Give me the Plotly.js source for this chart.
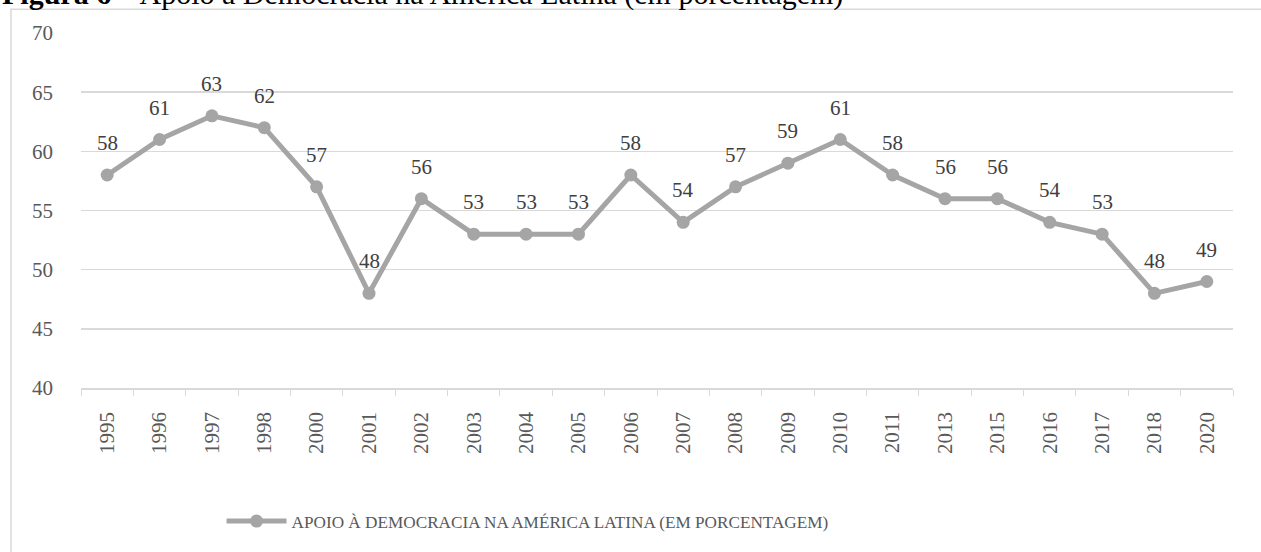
<!DOCTYPE html>
<html>
<head>
<meta charset="utf-8">
<script src="https://cdn.plot.ly/plotly-3.0.1.min.js"></script>
<style>html,body{margin:0;padding:0;background:#fff;}#chart{width:1261px;height:552px;}</style>
</head>
<body>
<div id="chart"></div>
<script>
const years = ["1995","1996","1997","1998","2000","2001","2002","2003","2004","2005","2006","2007","2008","2009","2010","2011","2013","2015","2016","2017","2018","2020"];
const support = [58,61,63,62,57,48,56,53,53,53,58,54,57,59,61,58,56,56,54,53,48,49];
const seriesName = "APOIO À DEMOCRACIA NA AMÉRICA LATINA (EM PORCENTAGEM)";
const figureTitle = "<b>Figura 6</b> – Apoio à Democracia na América Latina (em porcentagem)";

const font = "Liberation Serif, Times New Roman, serif";
const trace = {
  x: years, y: support, type: "scatter", mode: "lines+markers",
  name: seriesName,
  line: {color: "#a5a5a5", width: 5},
  marker: {color: "#a5a5a5", size: 13},
  cliponaxis: false
};
// data labels, placed at each category index with the plot's own axes
const labelAnnotations = support.map((v, i) => ({
  x: i, y: v, xref: "x", yref: "y", text: String(v),
  showarrow: false, yshift: 32, font: {family: font, size: 21, color: "#404040"}
}));
const layout = {
  width: 1261, height: 552,
  margin: {l: 81, r: 28, t: 33, b: 155},
  paper_bgcolor: "#fff", plot_bgcolor: "#fff",
  font: {family: font, color: "#595959"},
  showlegend: true,
  legend: {orientation: "h", x: 0.122, xanchor: "left", y: -0.325, yanchor: "top",
           font: {family: font, size: 17.2, color: "#595959"}, itemwidth: 60},
  xaxis: {type: "category", range: [-0.5, 21.5], tickangle: -90, tickfont: {size: 21, color: "#595959"},
          showgrid: false, showline: true, linecolor: "#d9d9d9", linewidth: 1.5,
          ticks: "outside", tickson: "boundaries", ticklen: 6, tickcolor: "#d9d9d9",
          ticklabelstandoff: 14, fixedrange: true},
  yaxis: {range: [40, 70], dtick: 5, tickfont: {size: 21, color: "#595959"},
          showgrid: true, gridcolor: "#d9d9d9", gridwidth: 1.5, zeroline: false,
          showline: false, ticks: "", ticklabelstandoff: 27, fixedrange: true},
  shapes: [{type: "rect", xref: "paper", yref: "paper", x0: -0.0608, x1: 1.2, y0: -1, y1: 1.067,
            line: {color: "#d9d9d9", width: 1.5}, fillcolor: "rgba(0,0,0,0)", layer: "below"}],
  annotations: labelAnnotations.concat([{xref: "paper", yref: "paper", x: -0.0703, y: 1.057, xanchor: "left", yanchor: "bottom",
                 text: figureTitle, showarrow: false, font: {family: font, size: 30, color: "#000"}}])
};
Plotly.newPlot("chart", [trace], layout, {displayModeBar: false, staticPlot: true});
</script>
</body>
</html>
